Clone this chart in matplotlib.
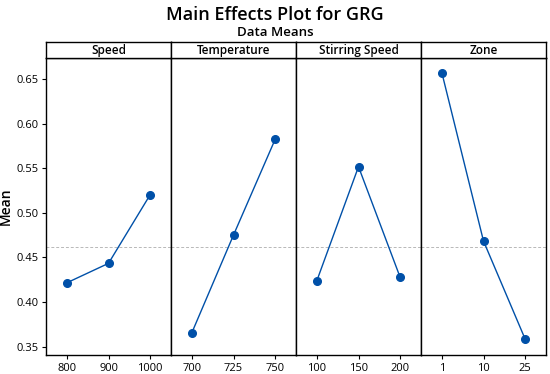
import numpy as np
import matplotlib.pyplot as plt

plt.rcParams['font.family'] = ['Open Sans', 'DejaVu Sans']

# factors and level means
factors = ["Speed", "Temperature", "Stirring Speed", "Zone"]
speed_levels = ["800", "900", "1000"]
speed_means = [0.4216, 0.4434, 0.5203]
temp_levels = ["700", "725", "750"]
temp_means = [0.3656, 0.4751, 0.5824]
stir_levels = ["100", "150", "200"]
stir_means = [0.4239, 0.5517, 0.4277]
zone_levels = ["1", "10", "25"]
zone_means = [0.6571, 0.4684, 0.3585]
grand_mean = 0.4613

levels = [speed_levels, temp_levels, stir_levels, zone_levels]
means = [speed_means, temp_means, stir_means, zone_means]

W, H = 550, 374
fig = plt.figure(figsize=(W / 100, H / 100), dpi=100)

left, right = 46, 546
top, bottom = 58, 355
strip_top = 42
pw = (right - left) / 4
blue = "#0050a8"

fig.text(0.5, 1 - 15 / H, "Main Effects Plot for GRG", ha="center", va="center",
         fontsize=13, fontweight="semibold")
fig.text(0.5, 1 - 32 / H, "Data Means", ha="center", va="center",
         fontsize=9.5, fontweight="semibold")

for i, name in enumerate(factors):
    x0 = (left + i * pw) / W
    ax = fig.add_axes([x0, 1 - bottom / H, pw / W, (bottom - top) / H])
    sax = fig.add_axes([x0, 1 - top / H, pw / W, (top - strip_top) / H])
    sax.set_xticks([])
    sax.set_yticks([])
    for s in sax.spines.values():
        s.set_linewidth(1.0)
    sax.text(0.5, 0.45, name, ha="center", va="center", fontsize=8.5,
             fontweight="semibold", transform=sax.transAxes)

    xs = np.arange(len(levels[i]))
    ax.axhline(grand_mean, color="#b8b8b8", lw=0.7, ls=(0, (3, 2)), zorder=1)
    ax.plot(xs, means[i], color=blue, lw=1.0, marker="o", ms=5.5,
            markerfacecolor=blue, markeredgecolor=blue, zorder=3)
    ax.set_xlim(-0.5, 2.5)
    ax.set_ylim(0.3407, 0.6735)
    ax.set_xticks(xs)
    ax.set_xticklabels(levels[i], fontsize=8)
    ax.tick_params(axis="x", length=3, width=0.8, pad=3)
    for s in ax.spines.values():
        s.set_linewidth(1.0)
    if i == 0:
        ax.set_yticks([0.35, 0.40, 0.45, 0.50, 0.55, 0.60, 0.65])
        ax.set_yticklabels(["0.35", "0.40", "0.45", "0.50", "0.55", "0.60", "0.65"],
                           fontsize=8)
        ax.tick_params(axis="y", length=3, width=0.8, pad=2)
        ax.set_ylabel("Mean", fontsize=10, fontweight="semibold", labelpad=3)
    else:
        ax.set_yticks([])

fig.savefig("out.png", dpi=100)
